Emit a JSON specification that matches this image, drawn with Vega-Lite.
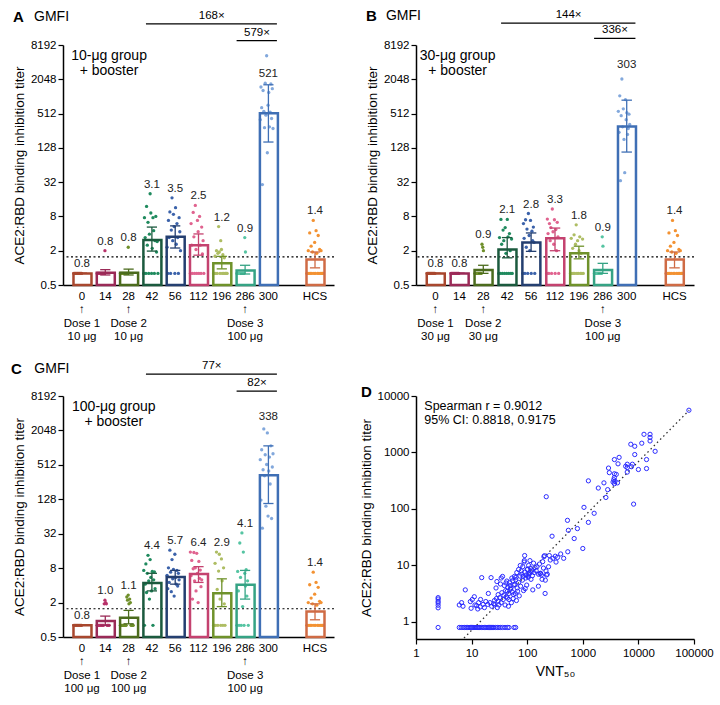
{
"$schema":"https://vega.github.io/schema/vega-lite/v6.json",
"padding":{"left":10,"top":8,"right":5,"bottom":5},
"config":{"font":"Liberation Sans","view":{"stroke":null},"axis":{"labelFont":"Liberation Sans","titleFont":"Liberation Sans","labelFlush":false}},
"columns":2,
"spacing":{"row":111,"column":82},
"bounds":"flush",
"align":"each",
"datasets":{
"pts":[
{"p":"A","g":"0","v":0.8},{"p":"A","g":"0","v":0.8},{"p":"A","g":"0","v":0.8},{"p":"A","g":"0","v":0.8},{"p":"A","g":"0","v":0.8},{"p":"A","g":"0","v":0.8},{"p":"A","g":"0","v":0.8},{"p":"A","g":"0","v":0.8},{"p":"A","g":"0","v":0.8},{"p":"A","g":"0","v":0.8},{"p":"A","g":"0","v":0.8},{"p":"A","g":"0","v":0.8},
{"p":"A","g":"14","v":0.8},{"p":"A","g":"14","v":0.8},{"p":"A","g":"14","v":0.8},{"p":"A","g":"14","v":0.8},{"p":"A","g":"14","v":0.8},{"p":"A","g":"14","v":0.8},{"p":"A","g":"14","v":0.8},{"p":"A","g":"14","v":0.8},{"p":"A","g":"14","v":0.8},{"p":"A","g":"14","v":0.8},{"p":"A","g":"14","v":0.8},{"p":"A","g":"14","v":2.0},
{"p":"A","g":"28","v":0.8},{"p":"A","g":"28","v":0.8},{"p":"A","g":"28","v":0.8},{"p":"A","g":"28","v":0.8},{"p":"A","g":"28","v":0.8},{"p":"A","g":"28","v":0.8},{"p":"A","g":"28","v":0.8},{"p":"A","g":"28","v":0.8},{"p":"A","g":"28","v":0.8},{"p":"A","g":"28","v":0.8},{"p":"A","g":"28","v":0.8},{"p":"A","g":"28","v":2.3},
{"p":"A","g":"42","v":0.8},{"p":"A","g":"42","v":7.6},{"p":"A","g":"42","v":3.4},{"p":"A","g":"42","v":0.8},{"p":"A","g":"42","v":12},{"p":"A","g":"42","v":2.5},{"p":"A","g":"42","v":6.3},{"p":"A","g":"42","v":0.8},{"p":"A","g":"42","v":3.9},{"p":"A","g":"42","v":20},{"p":"A","g":"42","v":9.2},{"p":"A","g":"42","v":0.8},{"p":"A","g":"42","v":2.2},{"p":"A","g":"42","v":7.6},{"p":"A","g":"42","v":4.5},{"p":"A","g":"42","v":0.8},{"p":"A","g":"42","v":3.0},{"p":"A","g":"42","v":8},{"p":"A","g":"42","v":1.9},{"p":"A","g":"42","v":2.9},{"p":"A","g":"42","v":0.8},
{"p":"A","g":"56","v":2.3},{"p":"A","g":"56","v":0.8},{"p":"A","g":"56","v":6.8},{"p":"A","g":"56","v":3.4},{"p":"A","g":"56","v":9.6},{"p":"A","g":"56","v":0.8},{"p":"A","g":"56","v":4.6},{"p":"A","g":"56","v":17},{"p":"A","g":"56","v":3.0},{"p":"A","g":"56","v":8.7},{"p":"A","g":"56","v":5.3},{"p":"A","g":"56","v":0.8},{"p":"A","g":"56","v":11.4},{"p":"A","g":"56","v":2.6},{"p":"A","g":"56","v":6},{"p":"A","g":"56","v":3.4},{"p":"A","g":"56","v":0.8},{"p":"A","g":"56","v":7.6},{"p":"A","g":"56","v":4.3},{"p":"A","g":"56","v":2.0},
{"p":"A","g":"112","v":0.8},{"p":"A","g":"112","v":6},{"p":"A","g":"112","v":2.5},{"p":"A","g":"112","v":0.8},{"p":"A","g":"112","v":9.4},{"p":"A","g":"112","v":3.5},{"p":"A","g":"112","v":0.8},{"p":"A","g":"112","v":12.5},{"p":"A","g":"112","v":2.1},{"p":"A","g":"112","v":0.8},{"p":"A","g":"112","v":6.8},{"p":"A","g":"112","v":4.3},{"p":"A","g":"112","v":0.8},{"p":"A","g":"112","v":8},{"p":"A","g":"112","v":2.5},{"p":"A","g":"112","v":0.8},{"p":"A","g":"112","v":5.2},{"p":"A","g":"112","v":1.75},{"p":"A","g":"112","v":3.0},{"p":"A","g":"112","v":0.8},
{"p":"A","g":"196","v":0.8},{"p":"A","g":"196","v":0.8},{"p":"A","g":"196","v":1.6},{"p":"A","g":"196","v":0.8},{"p":"A","g":"196","v":2.0},{"p":"A","g":"196","v":0.8},{"p":"A","g":"196","v":1.8},{"p":"A","g":"196","v":5.3},{"p":"A","g":"196","v":1.9},{"p":"A","g":"196","v":0.8},{"p":"A","g":"196","v":3.0},{"p":"A","g":"196","v":2.1},{"p":"A","g":"196","v":0.8},{"p":"A","g":"196","v":1.7},{"p":"A","g":"196","v":0.8},{"p":"A","g":"196","v":1.5},{"p":"A","g":"196","v":0.8},{"p":"A","g":"196","v":0.8},{"p":"A","g":"196","v":0.8},{"p":"A","g":"196","v":0.8},
{"p":"A","g":"286","v":0.8},{"p":"A","g":"286","v":0.8},{"p":"A","g":"286","v":0.8},{"p":"A","g":"286","v":0.8},{"p":"A","g":"286","v":0.8},{"p":"A","g":"286","v":0.8},{"p":"A","g":"286","v":0.8},{"p":"A","g":"286","v":0.8},{"p":"A","g":"286","v":0.8},{"p":"A","g":"286","v":0.8},{"p":"A","g":"286","v":0.8},{"p":"A","g":"286","v":3.4},{"p":"A","g":"286","v":1.9},
{"p":"A","g":"300","v":400},{"p":"A","g":"300","v":1500},{"p":"A","g":"300","v":650},{"p":"A","g":"300","v":29},{"p":"A","g":"300","v":1300},{"p":"A","g":"300","v":560},{"p":"A","g":"300","v":290},{"p":"A","g":"300","v":1750},{"p":"A","g":"300","v":480},{"p":"A","g":"300","v":5300},{"p":"A","g":"300","v":105},{"p":"A","g":"300","v":720},{"p":"A","g":"300","v":1200},{"p":"A","g":"300","v":300},{"p":"A","g":"300","v":540},{"p":"A","g":"300","v":1700},{"p":"A","g":"300","v":420},{"p":"A","g":"300","v":1400},{"p":"A","g":"300","v":280},
{"p":"A","g":"HCS","v":0.8},{"p":"A","g":"HCS","v":0.8},{"p":"A","g":"HCS","v":2.0},{"p":"A","g":"HCS","v":0.8},{"p":"A","g":"HCS","v":4.1},{"p":"A","g":"HCS","v":0.8},{"p":"A","g":"HCS","v":2.4},{"p":"A","g":"HCS","v":0.8},{"p":"A","g":"HCS","v":1.9},{"p":"A","g":"HCS","v":6.8},{"p":"A","g":"HCS","v":0.8},{"p":"A","g":"HCS","v":2.8},{"p":"A","g":"HCS","v":0.8},{"p":"A","g":"HCS","v":4.5},{"p":"A","g":"HCS","v":1.8},{"p":"A","g":"HCS","v":0.8},{"p":"A","g":"HCS","v":3.7},{"p":"A","g":"HCS","v":0.8},{"p":"A","g":"HCS","v":2.1},{"p":"A","g":"HCS","v":0.8},{"p":"A","g":"HCS","v":2.0},{"p":"A","g":"HCS","v":0.8},{"p":"A","g":"HCS","v":0.8},{"p":"A","g":"HCS","v":0.8},
{"p":"B","g":"0","v":0.8},{"p":"B","g":"0","v":0.8},{"p":"B","g":"0","v":0.8},{"p":"B","g":"0","v":0.8},{"p":"B","g":"0","v":0.8},{"p":"B","g":"0","v":0.8},{"p":"B","g":"0","v":0.8},{"p":"B","g":"0","v":0.8},{"p":"B","g":"0","v":0.8},{"p":"B","g":"0","v":0.8},{"p":"B","g":"0","v":0.8},{"p":"B","g":"0","v":0.8},
{"p":"B","g":"14","v":0.8},{"p":"B","g":"14","v":0.8},{"p":"B","g":"14","v":0.8},{"p":"B","g":"14","v":0.8},{"p":"B","g":"14","v":0.8},{"p":"B","g":"14","v":0.8},{"p":"B","g":"14","v":0.8},{"p":"B","g":"14","v":0.8},{"p":"B","g":"14","v":0.8},{"p":"B","g":"14","v":0.8},{"p":"B","g":"14","v":0.8},{"p":"B","g":"14","v":0.8},
{"p":"B","g":"28","v":0.8},{"p":"B","g":"28","v":0.8},{"p":"B","g":"28","v":0.8},{"p":"B","g":"28","v":0.8},{"p":"B","g":"28","v":0.8},{"p":"B","g":"28","v":0.8},{"p":"B","g":"28","v":0.8},{"p":"B","g":"28","v":0.8},{"p":"B","g":"28","v":0.8},{"p":"B","g":"28","v":0.8},{"p":"B","g":"28","v":2.6},{"p":"B","g":"28","v":2.3},{"p":"B","g":"28","v":2.0},
{"p":"B","g":"42","v":0.8},{"p":"B","g":"42","v":3.4},{"p":"B","g":"42","v":0.8},{"p":"B","g":"42","v":7.1},{"p":"B","g":"42","v":2.6},{"p":"B","g":"42","v":0.8},{"p":"B","g":"42","v":4.6},{"p":"B","g":"42","v":3.0},{"p":"B","g":"42","v":0.8},{"p":"B","g":"42","v":5.1},{"p":"B","g":"42","v":1.8},{"p":"B","g":"42","v":0.8},{"p":"B","g":"42","v":7.1},{"p":"B","g":"42","v":3.5},{"p":"B","g":"42","v":0.8},{"p":"B","g":"42","v":4.0},{"p":"B","g":"42","v":2.0},{"p":"B","g":"42","v":0.8},{"p":"B","g":"42","v":3.2},{"p":"B","g":"42","v":0.8},
{"p":"B","g":"56","v":0.8},{"p":"B","g":"56","v":6.0},{"p":"B","g":"56","v":3.3},{"p":"B","g":"56","v":0.8},{"p":"B","g":"56","v":7.0},{"p":"B","g":"56","v":2.3},{"p":"B","g":"56","v":4.8},{"p":"B","g":"56","v":0.8},{"p":"B","g":"56","v":9.0},{"p":"B","g":"56","v":3.7},{"p":"B","g":"56","v":2.0},{"p":"B","g":"56","v":6.8},{"p":"B","g":"56","v":0.8},{"p":"B","g":"56","v":4.4},{"p":"B","g":"56","v":3.0},{"p":"B","g":"56","v":5.2},{"p":"B","g":"56","v":2.8},{"p":"B","g":"56","v":0.8},
{"p":"B","g":"112","v":0.8},{"p":"B","g":"112","v":7.2},{"p":"B","g":"112","v":4.0},{"p":"B","g":"112","v":0.8},{"p":"B","g":"112","v":6.0},{"p":"B","g":"112","v":3.0},{"p":"B","g":"112","v":5.1},{"p":"B","g":"112","v":0.8},{"p":"B","g":"112","v":10.8},{"p":"B","g":"112","v":4.3},{"p":"B","g":"112","v":2.6},{"p":"B","g":"112","v":7.0},{"p":"B","g":"112","v":0.8},{"p":"B","g":"112","v":4.7},{"p":"B","g":"112","v":2.0},{"p":"B","g":"112","v":6.3},{"p":"B","g":"112","v":3.5},{"p":"B","g":"112","v":0.8},
{"p":"B","g":"196","v":0.8},{"p":"B","g":"196","v":3.3},{"p":"B","g":"196","v":0.8},{"p":"B","g":"196","v":2.2},{"p":"B","g":"196","v":0.8},{"p":"B","g":"196","v":3.8},{"p":"B","g":"196","v":0.8},{"p":"B","g":"196","v":2.6},{"p":"B","g":"196","v":5.7},{"p":"B","g":"196","v":0.8},{"p":"B","g":"196","v":3.0},{"p":"B","g":"196","v":0.8},{"p":"B","g":"196","v":2.0},{"p":"B","g":"196","v":3.5},{"p":"B","g":"196","v":0.8},{"p":"B","g":"196","v":1.8},{"p":"B","g":"196","v":0.8},{"p":"B","g":"196","v":3.2},{"p":"B","g":"196","v":0.8},
{"p":"B","g":"286","v":0.8},{"p":"B","g":"286","v":0.8},{"p":"B","g":"286","v":0.8},{"p":"B","g":"286","v":0.8},{"p":"B","g":"286","v":0.8},{"p":"B","g":"286","v":0.8},{"p":"B","g":"286","v":0.8},{"p":"B","g":"286","v":0.8},{"p":"B","g":"286","v":0.8},{"p":"B","g":"286","v":0.8},{"p":"B","g":"286","v":0.8},{"p":"B","g":"286","v":3.5},{"p":"B","g":"286","v":2.4},
{"p":"B","g":"300","v":560},{"p":"B","g":"300","v":240},{"p":"B","g":"300","v":1050},{"p":"B","g":"300","v":34},{"p":"B","g":"300","v":470},{"p":"B","g":"300","v":2070},{"p":"B","g":"300","v":300},{"p":"B","g":"300","v":620},{"p":"B","g":"300","v":180},{"p":"B","g":"300","v":47},{"p":"B","g":"300","v":900},{"p":"B","g":"300","v":400},{"p":"B","g":"300","v":530},{"p":"B","g":"300","v":220},{"p":"B","g":"300","v":280},{"p":"B","g":"300","v":500},{"p":"B","g":"300","v":330},
{"p":"B","g":"HCS","v":0.8},{"p":"B","g":"HCS","v":0.8},{"p":"B","g":"HCS","v":2.0},{"p":"B","g":"HCS","v":0.8},{"p":"B","g":"HCS","v":4.1},{"p":"B","g":"HCS","v":0.8},{"p":"B","g":"HCS","v":2.4},{"p":"B","g":"HCS","v":0.8},{"p":"B","g":"HCS","v":1.9},{"p":"B","g":"HCS","v":6.8},{"p":"B","g":"HCS","v":0.8},{"p":"B","g":"HCS","v":2.8},{"p":"B","g":"HCS","v":0.8},{"p":"B","g":"HCS","v":4.5},{"p":"B","g":"HCS","v":1.8},{"p":"B","g":"HCS","v":0.8},{"p":"B","g":"HCS","v":3.7},{"p":"B","g":"HCS","v":0.8},{"p":"B","g":"HCS","v":2.1},{"p":"B","g":"HCS","v":0.8},{"p":"B","g":"HCS","v":2.0},{"p":"B","g":"HCS","v":0.8},{"p":"B","g":"HCS","v":0.8},{"p":"B","g":"HCS","v":0.8},
{"p":"C","g":"0","v":0.8},{"p":"C","g":"0","v":0.8},{"p":"C","g":"0","v":0.8},{"p":"C","g":"0","v":0.8},{"p":"C","g":"0","v":0.8},{"p":"C","g":"0","v":0.8},{"p":"C","g":"0","v":0.8},{"p":"C","g":"0","v":0.8},{"p":"C","g":"0","v":0.8},{"p":"C","g":"0","v":0.8},{"p":"C","g":"0","v":0.8},{"p":"C","g":"0","v":0.8},
{"p":"C","g":"14","v":0.8},{"p":"C","g":"14","v":0.8},{"p":"C","g":"14","v":0.8},{"p":"C","g":"14","v":0.8},{"p":"C","g":"14","v":0.8},{"p":"C","g":"14","v":0.8},{"p":"C","g":"14","v":0.8},{"p":"C","g":"14","v":0.8},{"p":"C","g":"14","v":0.8},{"p":"C","g":"14","v":0.8},{"p":"C","g":"14","v":1.9},{"p":"C","g":"14","v":2.2},{"p":"C","g":"14","v":2.0},{"p":"C","g":"14","v":1.9},{"p":"C","g":"14","v":0.8},{"p":"C","g":"14","v":0.8},{"p":"C","g":"14","v":0.8},{"p":"C","g":"14","v":0.8},
{"p":"C","g":"28","v":0.8},{"p":"C","g":"28","v":0.8},{"p":"C","g":"28","v":0.8},{"p":"C","g":"28","v":0.8},{"p":"C","g":"28","v":0.8},{"p":"C","g":"28","v":0.8},{"p":"C","g":"28","v":0.8},{"p":"C","g":"28","v":0.8},{"p":"C","g":"28","v":0.8},{"p":"C","g":"28","v":2.5},{"p":"C","g":"28","v":2.2},{"p":"C","g":"28","v":2.7},{"p":"C","g":"28","v":1.9},{"p":"C","g":"28","v":2.3},{"p":"C","g":"28","v":2.0},{"p":"C","g":"28","v":0.8},{"p":"C","g":"28","v":0.8},{"p":"C","g":"28","v":0.8},{"p":"C","g":"28","v":0.8},
{"p":"C","g":"42","v":7.3},{"p":"C","g":"42","v":0.8},{"p":"C","g":"42","v":4.2},{"p":"C","g":"42","v":9.5},{"p":"C","g":"42","v":3.0},{"p":"C","g":"42","v":6.5},{"p":"C","g":"42","v":13.4},{"p":"C","g":"42","v":4.8},{"p":"C","g":"42","v":2.3},{"p":"C","g":"42","v":11.3},{"p":"C","g":"42","v":5.5},{"p":"C","g":"42","v":3.2},{"p":"C","g":"42","v":7.0},{"p":"C","g":"42","v":0.8},{"p":"C","g":"42","v":5.0},{"p":"C","g":"42","v":6.9},{"p":"C","g":"42","v":3.5},
{"p":"C","g":"56","v":6.0},{"p":"C","g":"56","v":3.5},{"p":"C","g":"56","v":8.1},{"p":"C","g":"56","v":4.5},{"p":"C","g":"56","v":16.5},{"p":"C","g":"56","v":6.8},{"p":"C","g":"56","v":3.1},{"p":"C","g":"56","v":11.3},{"p":"C","g":"56","v":5.2},{"p":"C","g":"56","v":7.6},{"p":"C","g":"56","v":2.6},{"p":"C","g":"56","v":14},{"p":"C","g":"56","v":5.5},{"p":"C","g":"56","v":4.2},{"p":"C","g":"56","v":7.3},{"p":"C","g":"56","v":3.9},{"p":"C","g":"56","v":6.5},{"p":"C","g":"56","v":5.0},
{"p":"C","g":"112","v":15.3},{"p":"C","g":"112","v":5.9},{"p":"C","g":"112","v":10.9},{"p":"C","g":"112","v":2.3},{"p":"C","g":"112","v":7.8},{"p":"C","g":"112","v":15},{"p":"C","g":"112","v":4.8},{"p":"C","g":"112","v":8.1},{"p":"C","g":"112","v":3.2},{"p":"C","g":"112","v":14.5},{"p":"C","g":"112","v":6.5},{"p":"C","g":"112","v":2.0},{"p":"C","g":"112","v":10.5},{"p":"C","g":"112","v":5.3},{"p":"C","g":"112","v":7.4},{"p":"C","g":"112","v":3.8},{"p":"C","g":"112","v":5.0},
{"p":"C","g":"196","v":0.8},{"p":"C","g":"196","v":0.8},{"p":"C","g":"196","v":9.7},{"p":"C","g":"196","v":0.8},{"p":"C","g":"196","v":15.3},{"p":"C","g":"196","v":3.4},{"p":"C","g":"196","v":0.8},{"p":"C","g":"196","v":7.1},{"p":"C","g":"196","v":14},{"p":"C","g":"196","v":2.3},{"p":"C","g":"196","v":0.8},{"p":"C","g":"196","v":11.6},{"p":"C","g":"196","v":4.8},{"p":"C","g":"196","v":0.8},{"p":"C","g":"196","v":8.1},{"p":"C","g":"196","v":1.9},{"p":"C","g":"196","v":0.8},
{"p":"C","g":"286","v":0.8},{"p":"C","g":"286","v":7.0},{"p":"C","g":"286","v":3.2},{"p":"C","g":"286","v":0.8},{"p":"C","g":"286","v":22},{"p":"C","g":"286","v":5.5},{"p":"C","g":"286","v":0.8},{"p":"C","g":"286","v":33},{"p":"C","g":"286","v":1.7},{"p":"C","g":"286","v":15.3},{"p":"C","g":"286","v":0.8},{"p":"C","g":"286","v":6.5},{"p":"C","g":"286","v":3.9},{"p":"C","g":"286","v":7.5},{"p":"C","g":"286","v":2.6},{"p":"C","g":"286","v":4.8},{"p":"C","g":"286","v":0.8},
{"p":"C","g":"300","v":630},{"p":"C","g":"300","v":124},{"p":"C","g":"300","v":940},{"p":"C","g":"300","v":40},{"p":"C","g":"300","v":420},{"p":"C","g":"300","v":2180},{"p":"C","g":"300","v":330},{"p":"C","g":"300","v":770},{"p":"C","g":"300","v":97},{"p":"C","g":"300","v":520},{"p":"C","g":"300","v":1850},{"p":"C","g":"300","v":65},{"p":"C","g":"300","v":400},{"p":"C","g":"300","v":700},{"p":"C","g":"300","v":237},{"p":"C","g":"300","v":1100},{"p":"C","g":"300","v":59},{"p":"C","g":"300","v":470},{"p":"C","g":"300","v":800},
{"p":"C","g":"HCS","v":0.8},{"p":"C","g":"HCS","v":0.8},{"p":"C","g":"HCS","v":2.0},{"p":"C","g":"HCS","v":0.8},{"p":"C","g":"HCS","v":4.1},{"p":"C","g":"HCS","v":0.8},{"p":"C","g":"HCS","v":2.4},{"p":"C","g":"HCS","v":0.8},{"p":"C","g":"HCS","v":1.9},{"p":"C","g":"HCS","v":6.8},{"p":"C","g":"HCS","v":0.8},{"p":"C","g":"HCS","v":2.8},{"p":"C","g":"HCS","v":0.8},{"p":"C","g":"HCS","v":4.5},{"p":"C","g":"HCS","v":1.8},{"p":"C","g":"HCS","v":0.8},{"p":"C","g":"HCS","v":3.7},{"p":"C","g":"HCS","v":0.8},{"p":"C","g":"HCS","v":2.1},{"p":"C","g":"HCS","v":0.8},{"p":"C","g":"HCS","v":2.0},{"p":"C","g":"HCS","v":0.8},{"p":"C","g":"HCS","v":0.8},{"p":"C","g":"HCS","v":0.8}
],
"sum":[
{"p":"A","g":"0","gm":0.8,"lo":0.8,"hi":0.8,"top":0.8,"t":"0.8"},
{"p":"A","g":"14","gm":0.82,"lo":0.75,"hi":0.93,"top":2.0,"t":"0.8"},
{"p":"A","g":"28","gm":0.82,"lo":0.75,"hi":0.95,"top":2.3,"t":"0.8"},
{"p":"A","g":"42","gm":3.1,"lo":1.97,"hi":5.2,"top":20,"t":"3.1"},
{"p":"A","g":"56","gm":3.5,"lo":2.23,"hi":5.46,"top":17,"t":"3.5"},
{"p":"A","g":"112","gm":2.5,"lo":1.67,"hi":3.94,"top":12.5,"t":"2.5"},
{"p":"A","g":"196","gm":1.2,"lo":0.96,"hi":1.59,"top":5.3,"t":"1.2"},
{"p":"A","g":"286","gm":0.9,"lo":0.78,"hi":1.11,"top":3.4,"t":"0.9"},
{"p":"A","g":"300","gm":521,"lo":162,"hi":1640,"top":1770,"t":"521"},
{"p":"A","g":"HCS","gm":1.4,"lo":1.0,"hi":1.9,"top":6.8,"t":"1.4"},
{"p":"B","g":"0","gm":0.8,"lo":0.8,"hi":0.8,"top":0.8,"t":"0.8"},
{"p":"B","g":"14","gm":0.8,"lo":0.8,"hi":0.8,"top":0.8,"t":"0.8"},
{"p":"B","g":"28","gm":0.92,"lo":0.8,"hi":1.11,"top":2.6,"t":"0.9"},
{"p":"B","g":"42","gm":2.1,"lo":1.5,"hi":3.4,"top":7.1,"t":"2.1"},
{"p":"B","g":"56","gm":2.8,"lo":1.95,"hi":4.1,"top":9.0,"t":"2.8"},
{"p":"B","g":"112","gm":3.3,"lo":2.0,"hi":5.0,"top":10.8,"t":"3.3"},
{"p":"B","g":"196","gm":1.8,"lo":1.44,"hi":2.4,"top":5.7,"t":"1.8"},
{"p":"B","g":"286","gm":0.92,"lo":0.8,"hi":1.2,"top":3.5,"t":"0.9"},
{"p":"B","g":"300","gm":303,"lo":108,"hi":880,"top":2500,"t":"303"},
{"p":"B","g":"HCS","gm":1.4,"lo":1.0,"hi":1.9,"top":6.8,"t":"1.4"},
{"p":"C","g":"0","gm":0.8,"lo":0.8,"hi":0.8,"top":0.8,"t":"0.8"},
{"p":"C","g":"14","gm":0.95,"lo":0.8,"hi":1.16,"top":2.2,"t":"1.0"},
{"p":"C","g":"28","gm":1.08,"lo":0.85,"hi":1.46,"top":2.7,"t":"1.1"},
{"p":"C","g":"42","gm":4.4,"lo":3.2,"hi":6.5,"top":13.4,"t":"4.4"},
{"p":"C","g":"56","gm":5.6,"lo":4.2,"hi":7.3,"top":16.5,"t":"5.7"},
{"p":"C","g":"112","gm":6.3,"lo":4.5,"hi":8.5,"top":15.3,"t":"6.4"},
{"p":"C","g":"196","gm":2.9,"lo":1.7,"hi":5.2,"top":15.3,"t":"2.9"},
{"p":"C","g":"286","gm":4.1,"lo":2.3,"hi":7.3,"top":33,"t":"4.1"},
{"p":"C","g":"300","gm":338,"lo":108,"hi":1100,"top":2400,"t":"338"},
{"p":"C","g":"HCS","gm":1.4,"lo":1.0,"hi":1.9,"top":6.8,"t":"1.4"}
],
"sc":[
{"x":2.5,"y":2.7},{"x":2.5,"y":2.55},{"x":2.5,"y":2.33},{"x":2.5,"y":2.18},{"x":2.5,"y":1.98},{"x":2.5,"y":1.78},{"x":2.5,"y":0.8},
{"x":6,"y":0.8},{"x":6.5,"y":0.8},{"x":7,"y":0.8},{"x":7.5,"y":0.8},{"x":8,"y":0.8},{"x":8.5,"y":0.8},{"x":9,"y":0.8},{"x":9.5,"y":0.8},{"x":10,"y":0.8},{"x":10.5,"y":0.8},{"x":11,"y":0.8},{"x":11.5,"y":0.8},{"x":12,"y":0.8},{"x":12.5,"y":0.8},{"x":13,"y":0.8},{"x":13.5,"y":0.8},{"x":14,"y":0.8},{"x":15,"y":0.8},{"x":16,"y":0.8},{"x":17,"y":0.8},{"x":18,"y":0.8},{"x":19,"y":0.8},{"x":20,"y":0.8},{"x":21,"y":0.8},{"x":22,"y":0.8},{"x":23,"y":0.8},{"x":24,"y":0.8},{"x":25,"y":0.8},{"x":27,"y":0.8},{"x":29,"y":0.8},{"x":31,"y":0.8},{"x":33,"y":0.8},{"x":36,"y":0.8},{"x":40,"y":0.8},{"x":44,"y":0.8},{"x":47,"y":0.8},{"x":58,"y":0.8},{"x":62,"y":0.8},
{"x":6,"y":2.0},{"x":6.6,"y":2.2},{"x":7,"y":1.9},{"x":7.7,"y":3.7},{"x":9.5,"y":2.3},{"x":9.8,"y":1.75},{"x":10.3,"y":2.5},{"x":11.2,"y":2.8},{"x":11.5,"y":2.0},{"x":12.3,"y":1.95},{"x":12.9,"y":1.7},{"x":13.4,"y":2.2},{"x":14.3,"y":1.85},{"x":14.5,"y":2.5},{"x":15.2,"y":6.1},{"x":16.1,"y":2.05},{"x":17,"y":1.8},{"x":18,"y":2.3},{"x":19.5,"y":2.05},{"x":20,"y":3.2},{"x":21.4,"y":2.2},{"x":22.4,"y":6.1},{"x":23,"y":1.9},{"x":25,"y":2.1},{"x":25.8,"y":2.4},{"x":26,"y":2.0},{"x":27.5,"y":4.0},{"x":28,"y":2.6},{"x":28.5,"y":5.2},{"x":29,"y":1.8},{"x":30,"y":3.05},{"x":30,"y":2.35},{"x":31,"y":2.0},{"x":32,"y":2.7},{"x":33,"y":4.7},{"x":34,"y":2.2},{"x":34,"y":6.0},{"x":35,"y":3.3},{"x":36,"y":6.4},{"x":37,"y":2.5},{"x":38,"y":3.0},{"x":39,"y":4.4},{"x":40,"y":2.0},{"x":41,"y":3.6},{"x":41.5,"y":4.9},{"x":42,"y":2.8},{"x":43,"y":5.3},{"x":44,"y":3.5},{"x":44,"y":2.66},{"x":45,"y":4.1},{"x":46,"y":1.9},{"x":47,"y":2.5},{"x":47,"y":3.2},{"x":48,"y":5.0},{"x":49,"y":4.4},{"x":50,"y":3.8},{"x":51,"y":4.0},{"x":52,"y":2.2},{"x":53,"y":6.0},{"x":54,"y":3.4},{"x":55,"y":5.4},{"x":56,"y":2.6},{"x":57,"y":3.05},{"x":58,"y":4.5},{"x":59,"y":6.4},{"x":60,"y":4.6},{"x":61,"y":3.2},{"x":62,"y":5.6},{"x":63,"y":6.2},{"x":64,"y":2.4},{"x":66,"y":4.0},{"x":67,"y":3.5},{"x":70,"y":5.0},{"x":72,"y":2.9},{"x":74,"y":6.5},{"x":76,"y":4.3},{"x":78,"y":8.0},{"x":80,"y":7.0},{"x":82,"y":5.5},{"x":83,"y":9.5},{"x":85,"y":6.4},{"x":86,"y":3.6},{"x":88,"y":11.5},{"x":89,"y":12.2},{"x":90,"y":7.6},{"x":90,"y":15},{"x":92,"y":3.9},{"x":94,"y":6.0},{"x":96,"y":6.8},{"x":98,"y":4.5},{"x":100,"y":8.5},{"x":102,"y":8.6},{"x":104,"y":6.5},{"x":105,"y":6.2},{"x":106,"y":10},{"x":108,"y":7.0},{"x":110,"y":7.3},{"x":112,"y":12.2},{"x":114,"y":9.0},{"x":117,"y":5.7},{"x":118,"y":7.8},{"x":121,"y":8.3},{"x":124,"y":6.6},{"x":126,"y":3.7},{"x":130,"y":11},{"x":133,"y":7.5},{"x":138,"y":9.2},{"x":145,"y":8.1},{"x":150,"y":9.5},{"x":159,"y":4.3},{"x":160,"y":7.0},{"x":166,"y":10.6},{"x":170,"y":7.2},{"x":174,"y":7.3},{"x":180,"y":6.8},{"x":185,"y":5.7},{"x":190,"y":11.7},{"x":196,"y":9.0},{"x":200,"y":14.3},{"x":204,"y":14.9},{"x":210,"y":3.2},{"x":212,"y":5.5},{"x":218,"y":8.0},{"x":222,"y":6.8},{"x":230,"y":7.0},{"x":242,"y":9.5},{"x":250,"y":15},{"x":260,"y":12.5},{"x":280,"y":33},{"x":290,"y":13.4},{"x":320,"y":14.6},{"x":330,"y":11.5},{"x":350,"y":13.9},{"x":400,"y":16},{"x":453,"y":13.4},{"x":537,"y":17.5},{"x":530,"y":63},{"x":550,"y":42},{"x":700,"y":30},{"x":800,"y":45},{"x":1000,"y":20},{"x":220,"y":165},{"x":70,"y":8.5},{"x":65,"y":7.5},{"x":75,"y":10},
{"x":1050,"y":107},{"x":1260,"y":58},{"x":1260,"y":315},{"x":1600,"y":84},{"x":1900,"y":235},{"x":2400,"y":290},{"x":2600,"y":160},{"x":2800,"y":220},{"x":2900,"y":530},{"x":3000,"y":440},{"x":3500,"y":300},{"x":3600,"y":330},{"x":3700,"y":750},{"x":3700,"y":420},{"x":3700,"y":360},{"x":3700,"y":280},{"x":3800,"y":310},{"x":4000,"y":410},{"x":4200,"y":290},{"x":4300,"y":630},{"x":4500,"y":820},{"x":5900,"y":570},{"x":6300,"y":540},{"x":6300,"y":450},{"x":6300,"y":620},{"x":7300,"y":1400},{"x":7500,"y":560},{"x":7800,"y":620},{"x":8200,"y":122},{"x":8600,"y":1290},{"x":8600,"y":920},{"x":10000,"y":500},{"x":11500,"y":1460},{"x":12600,"y":2100},{"x":14000,"y":750},{"x":14000,"y":520},{"x":16200,"y":2100},{"x":16200,"y":1850},{"x":16200,"y":1600},{"x":20000,"y":1050},{"x":81000,"y":5600}
],
"fit":[{"x":7.3,"y":0.52},{"x":82000,"y":5600}]
},
"concat":[
{
"width":271,"height":240,
"layer":[
{"data":{"values":[{}]},"mark":{"type":"rule","strokeDash":[2,2.5],"strokeWidth":1.2,"color":"#000"},"encoding":{"y":{"datum":1.56,"type":"quantitative"}}},
{"data":{"name":"pts"},"transform":[{"filter":"datum.p=='A'"},{"window":[{"op":"row_number","as":"i"}],"groupby":["g"]}],
"mark":{"type":"circle","size":11,"opacity":1},
"encoding":{
"x":{"field":"g","type":"nominal","scale":{"domain":["0","14","28","42","56","112","196","286","300","gap","HCS"],"paddingInner":0.27,"paddingOuter":0.45},
"axis":{"title":null,"ticks":false,"domainColor":"#000","domainWidth":1.5,"labelColor":"#000","labelFontSize":11.5,"labelAngle":0,"labelPadding":5,"labelLineHeight":13.5,"labelBaseline":"top","labelOverlap":false,"labelBound":false,
"labelExpr":"datum.value=='gap'?'':datum.value=='0'?['0','↑','Dose 1','10 μg']:datum.value=='28'?['28','↑','Dose 2','10 μg']:datum.value=='286'?['286','↑','Dose 3','100 μg']:datum.value"}},
"xOffset":{"field":"i","type":"ordinal","scale":{"paddingOuter":0.5}},
"y":{"field":"v","type":"quantitative","scale":{"type":"log","base":2,"domain":[0.5,8192],"nice":false},
"axis":{"title":"ACE2:RBD binding inhibition titer","values":[0.5,2,8,32,128,512,2048,8192],"format":"~g","grid":false,"domainColor":"#000","domainWidth":1.5,"tickColor":"#000","tickWidth":1.2,"tickSize":5,"labelColor":"#000","labelFontSize":11.5,"titleFontSize":13.5,"titleFontWeight":"normal","titleColor":"#000","titlePadding":4,"labelPadding":2}},
"color":{"field":"g","type":"nominal","scale":{"domain":["0","14","28","42","56","112","196","286","300","HCS"],"range":["#b5533c","#b8326a","#6f8f2a","#1f8a5e","#3b62aa","#e0638f","#aebd63","#55c4a2","#82a8dc","#f39232"]},"legend":null}}},
{"data":{"name":"sum"},"transform":[{"filter":"datum.p=='A'"}],"mark":{"type":"bar","fill":"transparent","strokeWidth":2.5},
"encoding":{"x":{"field":"g","type":"nominal"},"y":{"field":"gm","type":"quantitative"},"y2":{"datum":0.5},
"stroke":{"field":"g","type":"nominal","scale":{"domain":["0","14","28","42","56","112","196","286","300","HCS"],"range":["#a8472e","#9a2a57","#4b6b1d","#1b5a3e","#243f70","#c4426f","#6f922b","#35a384","#3f6fb5","#cf6b45"]},"legend":null}}},
{"data":{"name":"sum"},"transform":[{"filter":"datum.p=='A'"}],"mark":{"type":"rule","strokeWidth":1.3},
"encoding":{"x":{"field":"g","type":"nominal"},"y":{"field":"lo","type":"quantitative"},"y2":{"field":"hi"},"stroke":{"field":"g","type":"nominal","legend":null}}},
{"data":{"name":"sum"},"transform":[{"filter":"datum.p=='A'"}],"mark":{"type":"rule","strokeWidth":1.3},
"encoding":{"x":{"field":"g","type":"nominal","bandPosition":0.2},"x2":{"field":"g","bandPosition":0.8},"y":{"field":"hi","type":"quantitative"},"stroke":{"field":"g","type":"nominal","legend":null}}},
{"data":{"name":"sum"},"transform":[{"filter":"datum.p=='A'"}],"mark":{"type":"rule","strokeWidth":1.3},
"encoding":{"x":{"field":"g","type":"nominal","bandPosition":0.2},"x2":{"field":"g","bandPosition":0.8},"y":{"field":"lo","type":"quantitative"},"stroke":{"field":"g","type":"nominal","legend":null}}},
{"data":{"name":"sum"},"transform":[{"filter":"datum.p=='A'"}],"mark":{"type":"text","baseline":"bottom","dy":-4,"fontSize":11.5,"color":"#222"},
"encoding":{"x":{"field":"g","type":"nominal"},"y":{"field":"top","type":"quantitative"},"text":{"field":"t"}}},
{"data":{"values":[{}]},"mark":{"type":"text","baseline":"top","align":"center","fontSize":14,"lineHeight":15,"color":"#000","text":["10-μg group","+ booster"]},
"encoding":{"x":{"datum":"14","type":"nominal","bandPosition":0.72},"y":{"datum":6970,"type":"quantitative"}}},
{"data":{"values":[{}]},"mark":{"type":"text","baseline":"middle","align":"left","fontSize":15,"fontWeight":"bold","color":"#000","text":"A"},
"encoding":{"x":{"datum":"0","type":"nominal","bandPosition":-3.56},"y":{"datum":25400,"type":"quantitative"}}},
{"data":{"values":[{}]},"mark":{"type":"text","baseline":"middle","align":"left","fontSize":14,"color":"#000","text":"GMFI"},
"encoding":{"x":{"datum":"0","type":"nominal","bandPosition":-2.32},"y":{"datum":25400,"type":"quantitative"}}},
{"data":{"values":[{}]},"mark":{"type":"rule","strokeWidth":1.2,"color":"#000"},
"encoding":{"x":{"datum":"42","type":"nominal","bandPosition":0.15},"x2":{"datum":"300","bandPosition":1},"y":{"datum":19200,"type":"quantitative"}}},
{"data":{"values":[{}]},"mark":{"type":"rule","strokeWidth":1.2,"color":"#000"},
"encoding":{"x":{"datum":"286","type":"nominal","bandPosition":0},"x2":{"datum":"300","bandPosition":1},"y":{"datum":9740,"type":"quantitative"}}},
{"data":{"values":[{}]},"mark":{"type":"text","baseline":"bottom","dy":-3,"fontSize":11.5,"color":"#000","text":"168×"},
"encoding":{"x":{"datum":"112","type":"nominal","bandPosition":1.28},"y":{"datum":19200,"type":"quantitative"}}},
{"data":{"values":[{}]},"mark":{"type":"text","baseline":"bottom","dy":-3,"fontSize":11.5,"color":"#000","text":"579×"},
"encoding":{"x":{"datum":"286","type":"nominal","bandPosition":1.2},"y":{"datum":9740,"type":"quantitative"}}}
]
},
{
"width":278,"height":240,
"layer":[
{"data":{"values":[{}]},"mark":{"type":"rule","strokeDash":[2,2.5],"strokeWidth":1.2,"color":"#000"},"encoding":{"y":{"datum":1.56,"type":"quantitative"}}},
{"data":{"name":"pts"},"transform":[{"filter":"datum.p=='B'"},{"window":[{"op":"row_number","as":"i"}],"groupby":["g"]}],
"mark":{"type":"circle","size":11,"opacity":1},
"encoding":{
"x":{"field":"g","type":"nominal","scale":{"domain":["0","14","28","42","56","112","196","286","300","gap","HCS"],"paddingInner":0.27,"paddingOuter":0.45},
"axis":{"title":null,"ticks":false,"domainColor":"#000","domainWidth":1.5,"labelColor":"#000","labelFontSize":11.5,"labelAngle":0,"labelPadding":5,"labelLineHeight":13.5,"labelBaseline":"top","labelOverlap":false,"labelBound":false,
"labelExpr":"datum.value=='gap'?'':datum.value=='0'?['0','↑','Dose 1','30 μg']:datum.value=='28'?['28','↑','Dose 2','30 μg']:datum.value=='286'?['286','↑','Dose 3','100 μg']:datum.value"}},
"xOffset":{"field":"i","type":"ordinal","scale":{"paddingOuter":0.5}},
"y":{"field":"v","type":"quantitative","scale":{"type":"log","base":2,"domain":[0.5,8192],"nice":false},
"axis":{"title":"ACE2:RBD binding inhibition titer","values":[0.5,2,8,32,128,512,2048,8192],"format":"~g","grid":false,"domainColor":"#000","domainWidth":1.5,"tickColor":"#000","tickWidth":1.2,"tickSize":5,"labelColor":"#000","labelFontSize":11.5,"titleFontSize":13.5,"titleFontWeight":"normal","titleColor":"#000","titlePadding":4,"labelPadding":2}},
"color":{"field":"g","type":"nominal","scale":{"domain":["0","14","28","42","56","112","196","286","300","HCS"],"range":["#b5533c","#b8326a","#6f8f2a","#1f8a5e","#3b62aa","#e0638f","#aebd63","#55c4a2","#82a8dc","#f39232"]},"legend":null}}},
{"data":{"name":"sum"},"transform":[{"filter":"datum.p=='B'"}],"mark":{"type":"bar","fill":"transparent","strokeWidth":2.5},
"encoding":{"x":{"field":"g","type":"nominal"},"y":{"field":"gm","type":"quantitative"},"y2":{"datum":0.5},
"stroke":{"field":"g","type":"nominal","scale":{"domain":["0","14","28","42","56","112","196","286","300","HCS"],"range":["#a8472e","#9a2a57","#4b6b1d","#1b5a3e","#243f70","#c4426f","#6f922b","#35a384","#3f6fb5","#cf6b45"]},"legend":null}}},
{"data":{"name":"sum"},"transform":[{"filter":"datum.p=='B'"}],"mark":{"type":"rule","strokeWidth":1.3},
"encoding":{"x":{"field":"g","type":"nominal"},"y":{"field":"lo","type":"quantitative"},"y2":{"field":"hi"},"stroke":{"field":"g","type":"nominal","legend":null}}},
{"data":{"name":"sum"},"transform":[{"filter":"datum.p=='B'"}],"mark":{"type":"rule","strokeWidth":1.3},
"encoding":{"x":{"field":"g","type":"nominal","bandPosition":0.2},"x2":{"field":"g","bandPosition":0.8},"y":{"field":"hi","type":"quantitative"},"stroke":{"field":"g","type":"nominal","legend":null}}},
{"data":{"name":"sum"},"transform":[{"filter":"datum.p=='B'"}],"mark":{"type":"rule","strokeWidth":1.3},
"encoding":{"x":{"field":"g","type":"nominal","bandPosition":0.2},"x2":{"field":"g","bandPosition":0.8},"y":{"field":"lo","type":"quantitative"},"stroke":{"field":"g","type":"nominal","legend":null}}},
{"data":{"name":"sum"},"transform":[{"filter":"datum.p=='B'"}],"mark":{"type":"text","baseline":"bottom","dy":-4,"fontSize":11.5,"color":"#222"},
"encoding":{"x":{"field":"g","type":"nominal"},"y":{"field":"top","type":"quantitative"},"text":{"field":"t"}}},
{"data":{"values":[{}]},"mark":{"type":"text","baseline":"top","align":"center","fontSize":14,"lineHeight":15,"color":"#000","text":["30-μg group","+ booster"]},
"encoding":{"x":{"datum":"14","type":"nominal","bandPosition":0.4},"y":{"datum":6970,"type":"quantitative"}}},
{"data":{"values":[{}]},"mark":{"type":"text","baseline":"middle","align":"left","fontSize":15,"fontWeight":"bold","color":"#000","text":"B"},
"encoding":{"x":{"datum":"0","type":"nominal","bandPosition":-3.48},"y":{"datum":26500,"type":"quantitative"}}},
{"data":{"values":[{}]},"mark":{"type":"text","baseline":"middle","align":"left","fontSize":14,"color":"#000","text":"GMFI"},
"encoding":{"x":{"datum":"0","type":"nominal","bandPosition":-2.34},"y":{"datum":26500,"type":"quantitative"}}},
{"data":{"values":[{}]},"mark":{"type":"rule","strokeWidth":1.2,"color":"#000"},
"encoding":{"x":{"datum":"42","type":"nominal","bandPosition":0.15},"x2":{"datum":"300","bandPosition":1},"y":{"datum":19900,"type":"quantitative"}}},
{"data":{"values":[{}]},"mark":{"type":"rule","strokeWidth":1.2,"color":"#000"},
"encoding":{"x":{"datum":"286","type":"nominal","bandPosition":0},"x2":{"datum":"300","bandPosition":1},"y":{"datum":10700,"type":"quantitative"}}},
{"data":{"values":[{}]},"mark":{"type":"text","baseline":"bottom","dy":-3,"fontSize":11.5,"color":"#000","text":"144×"},
"encoding":{"x":{"datum":"112","type":"nominal","bandPosition":1.28},"y":{"datum":19900,"type":"quantitative"}}},
{"data":{"values":[{}]},"mark":{"type":"text","baseline":"bottom","dy":-3,"fontSize":11.5,"color":"#000","text":"336×"},
"encoding":{"x":{"datum":"286","type":"nominal","bandPosition":1.2},"y":{"datum":10700,"type":"quantitative"}}}
]
},
{
"width":271,"height":241,
"layer":[
{"data":{"values":[{}]},"mark":{"type":"rule","strokeDash":[2,2.5],"strokeWidth":1.2,"color":"#000"},"encoding":{"y":{"datum":1.56,"type":"quantitative"}}},
{"data":{"name":"pts"},"transform":[{"filter":"datum.p=='C'"},{"window":[{"op":"row_number","as":"i"}],"groupby":["g"]}],
"mark":{"type":"circle","size":11,"opacity":1},
"encoding":{
"x":{"field":"g","type":"nominal","scale":{"domain":["0","14","28","42","56","112","196","286","300","gap","HCS"],"paddingInner":0.27,"paddingOuter":0.45},
"axis":{"title":null,"ticks":false,"domainColor":"#000","domainWidth":1.5,"labelColor":"#000","labelFontSize":11.5,"labelAngle":0,"labelPadding":5,"labelLineHeight":13.5,"labelBaseline":"top","labelOverlap":false,"labelBound":false,
"labelExpr":"datum.value=='gap'?'':datum.value=='0'?['0','↑','Dose 1','100 μg']:datum.value=='28'?['28','↑','Dose 2','100 μg']:datum.value=='286'?['286','↑','Dose 3','100 μg']:datum.value"}},
"xOffset":{"field":"i","type":"ordinal","scale":{"paddingOuter":0.5}},
"y":{"field":"v","type":"quantitative","scale":{"type":"log","base":2,"domain":[0.5,8192],"nice":false},
"axis":{"title":"ACE2:RBD binding inhibition titer","values":[0.5,2,8,32,128,512,2048,8192],"format":"~g","grid":false,"domainColor":"#000","domainWidth":1.5,"tickColor":"#000","tickWidth":1.2,"tickSize":5,"labelColor":"#000","labelFontSize":11.5,"titleFontSize":13.5,"titleFontWeight":"normal","titleColor":"#000","titlePadding":4,"labelPadding":2}},
"color":{"field":"g","type":"nominal","scale":{"domain":["0","14","28","42","56","112","196","286","300","HCS"],"range":["#b5533c","#b8326a","#6f8f2a","#1f8a5e","#3b62aa","#e0638f","#aebd63","#55c4a2","#82a8dc","#f39232"]},"legend":null}}},
{"data":{"name":"sum"},"transform":[{"filter":"datum.p=='C'"}],"mark":{"type":"bar","fill":"transparent","strokeWidth":2.5},
"encoding":{"x":{"field":"g","type":"nominal"},"y":{"field":"gm","type":"quantitative"},"y2":{"datum":0.5},
"stroke":{"field":"g","type":"nominal","scale":{"domain":["0","14","28","42","56","112","196","286","300","HCS"],"range":["#a8472e","#9a2a57","#4b6b1d","#1b5a3e","#243f70","#c4426f","#6f922b","#35a384","#3f6fb5","#cf6b45"]},"legend":null}}},
{"data":{"name":"sum"},"transform":[{"filter":"datum.p=='C'"}],"mark":{"type":"rule","strokeWidth":1.3},
"encoding":{"x":{"field":"g","type":"nominal"},"y":{"field":"lo","type":"quantitative"},"y2":{"field":"hi"},"stroke":{"field":"g","type":"nominal","legend":null}}},
{"data":{"name":"sum"},"transform":[{"filter":"datum.p=='C'"}],"mark":{"type":"rule","strokeWidth":1.3},
"encoding":{"x":{"field":"g","type":"nominal","bandPosition":0.2},"x2":{"field":"g","bandPosition":0.8},"y":{"field":"hi","type":"quantitative"},"stroke":{"field":"g","type":"nominal","legend":null}}},
{"data":{"name":"sum"},"transform":[{"filter":"datum.p=='C'"}],"mark":{"type":"rule","strokeWidth":1.3},
"encoding":{"x":{"field":"g","type":"nominal","bandPosition":0.2},"x2":{"field":"g","bandPosition":0.8},"y":{"field":"lo","type":"quantitative"},"stroke":{"field":"g","type":"nominal","legend":null}}},
{"data":{"name":"sum"},"transform":[{"filter":"datum.p=='C'"}],"mark":{"type":"text","baseline":"bottom","dy":-4,"fontSize":11.5,"color":"#222"},
"encoding":{"x":{"field":"g","type":"nominal"},"y":{"field":"top","type":"quantitative"},"text":{"field":"t"}}},
{"data":{"values":[{}]},"mark":{"type":"text","baseline":"top","align":"center","fontSize":14,"lineHeight":15,"color":"#000","text":["100-μg group","+ booster"]},
"encoding":{"x":{"datum":"14","type":"nominal","bandPosition":1.0},"y":{"datum":6970,"type":"quantitative"}}},
{"data":{"values":[{}]},"mark":{"type":"text","baseline":"middle","align":"left","fontSize":15,"fontWeight":"bold","color":"#000","text":"C"},
"encoding":{"x":{"datum":"0","type":"nominal","bandPosition":-3.68},"y":{"datum":24400,"type":"quantitative"}}},
{"data":{"values":[{}]},"mark":{"type":"text","baseline":"middle","align":"left","fontSize":14,"color":"#000","text":"GMFI"},
"encoding":{"x":{"datum":"0","type":"nominal","bandPosition":-2.3},"y":{"datum":24400,"type":"quantitative"}}},
{"data":{"values":[{}]},"mark":{"type":"rule","strokeWidth":1.2,"color":"#000"},
"encoding":{"x":{"datum":"42","type":"nominal","bandPosition":0.15},"x2":{"datum":"300","bandPosition":1},"y":{"datum":19700,"type":"quantitative"}}},
{"data":{"values":[{}]},"mark":{"type":"rule","strokeWidth":1.2,"color":"#000"},
"encoding":{"x":{"datum":"286","type":"nominal","bandPosition":0},"x2":{"datum":"300","bandPosition":1},"y":{"datum":10000,"type":"quantitative"}}},
{"data":{"values":[{}]},"mark":{"type":"text","baseline":"bottom","dy":-3,"fontSize":11.5,"color":"#000","text":"77×"},
"encoding":{"x":{"datum":"112","type":"nominal","bandPosition":1.28},"y":{"datum":19700,"type":"quantitative"}}},
{"data":{"values":[{}]},"mark":{"type":"text","baseline":"bottom","dy":-3,"fontSize":11.5,"color":"#000","text":"82×"},
"encoding":{"x":{"datum":"286","type":"nominal","bandPosition":1.2},"y":{"datum":10000,"type":"quantitative"}}}
]
},
{
"width":278,"height":243,
"layer":[
{"data":{"name":"fit"},"mark":{"type":"line","strokeDash":[1.5,3],"color":"#333","strokeWidth":1.3},
"encoding":{"x":{"field":"x","type":"quantitative","scale":{"type":"log","domain":[1,100000],"nice":false},
"axis":{"title":"VNT₅₀","values":[1,10,100,1000,10000,100000],"format":"d","grid":false,"labelFlush":false,"domainColor":"#000","domainWidth":1.5,"tickColor":"#000","tickWidth":1.2,"tickSize":5,"labelColor":"#000","labelFontSize":11.5,"titleFontSize":14,"titleFontWeight":"normal","titleColor":"#000","titlePadding":6,"labelPadding":3}},
"y":{"field":"y","type":"quantitative","scale":{"type":"log","domain":[0.5,10000],"nice":false},
"axis":{"title":"ACE2:RBD binding inhibition titer","values":[1,10,100,1000,10000],"format":"d","grid":false,"labelFlush":false,"domainColor":"#000","domainWidth":1.5,"tickColor":"#000","tickWidth":1.2,"tickSize":5,"labelColor":"#000","labelFontSize":11.5,"titleFontSize":13.5,"titleFontWeight":"normal","titleColor":"#000","titlePadding":4,"labelPadding":2}}}},
{"data":{"name":"sc"},"mark":{"type":"point","shape":"circle","filled":false,"color":"#2b2bff","size":18,"strokeWidth":1,"opacity":1},
"encoding":{"x":{"field":"x","type":"quantitative"},"y":{"field":"y","type":"quantitative"}}},
{"data":{"values":[{}]},"mark":{"type":"text","align":"left","baseline":"top","fontSize":12.5,"lineHeight":14,"color":"#000","text":["Spearman r = 0.9012","95% CI: 0.8818, 0.9175"]},
"encoding":{"x":{"datum":1.41,"type":"quantitative"},"y":{"datum":8600,"type":"quantitative"}}},
{"data":{"values":[{}]},"mark":{"type":"text","baseline":"middle","align":"left","fontSize":15,"fontWeight":"bold","color":"#000","text":"D"},
"encoding":{"x":{"datum":0.103,"type":"quantitative"},"y":{"datum":12000,"type":"quantitative"}}}
]
}
]
}
